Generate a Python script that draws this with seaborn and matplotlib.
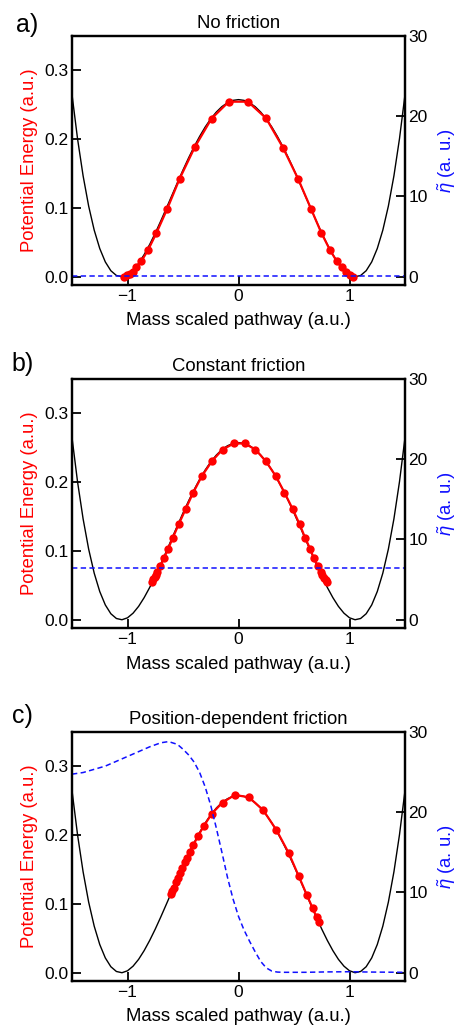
import numpy as np
import pandas as pd
import matplotlib
matplotlib.use("Agg")
import matplotlib.pyplot as plt
import seaborn as sns

# ---------------- data ----------------
# potential energy curve (symmetric double well)
pot_x = [-1.50, -1.45, -1.40, -1.35, -1.30, -1.25, -1.20, -1.15, -1.10, -1.05,
         -1.00, -0.95, -0.90, -0.85, -0.80, -0.75, -0.70, -0.65, -0.60, -0.55,
         -0.50, -0.45, -0.40, -0.35, -0.30, -0.25, -0.20, -0.15, -0.10, -0.05,
         0.00, 0.05, 0.10, 0.15, 0.20, 0.25, 0.30, 0.35, 0.40, 0.45,
         0.50, 0.55, 0.60, 0.65, 0.70, 0.75, 0.80, 0.85, 0.90, 0.95,
         1.00, 1.05, 1.10, 1.15, 1.20, 1.25, 1.30, 1.35, 1.40, 1.45, 1.50]
pot_y = [0.2644, 0.2001, 0.1464, 0.1025, 0.0676, 0.0409, 0.0215, 0.0087, 0.0018, 0.0000,
         0.0028, 0.0095, 0.0194, 0.0321, 0.0469, 0.0633, 0.0810, 0.0994, 0.1180, 0.1367,
         0.1549, 0.1723, 0.1887, 0.2037, 0.2173, 0.2291, 0.2389, 0.2468, 0.2524, 0.2559,
         0.2570, 0.2559, 0.2524, 0.2468, 0.2389, 0.2291, 0.2173, 0.2037, 0.1887, 0.1723,
         0.1549, 0.1367, 0.1180, 0.0994, 0.0810, 0.0633, 0.0469, 0.0321, 0.0194, 0.0095,
         0.0028, 0.0000, 0.0018, 0.0087, 0.0215, 0.0409, 0.0676, 0.1025, 0.1464, 0.2001, 0.2644]

# path images (red dots)
path_a_x = [-1.030, -1.005, -0.979, -0.952, -0.919, -0.874, -0.814, -0.739, -0.642, -0.531,
            -0.394, -0.243, -0.087, 0.085, 0.248, 0.400, 0.537, 0.652, 0.745, 0.823,
            0.883, 0.928, 0.964, 1.000, 1.030]
path_a_y = [0.0002, 0.0022, 0.0045, 0.0073, 0.0136, 0.0228, 0.0390, 0.0636, 0.0985, 0.1420,
            0.1880, 0.2295, 0.2540, 0.2540, 0.2300, 0.1875, 0.1420, 0.0990, 0.0640, 0.0390,
            0.0230, 0.0135, 0.0072, 0.0025, 0.0003]

path_b_x = [-0.777, -0.766, -0.755, -0.744, -0.733, -0.703, -0.673, -0.634, -0.592, -0.538,
            -0.477, -0.408, -0.330, -0.240, -0.144, -0.042, 0.054, 0.153, 0.246, 0.336,
            0.414, 0.489, 0.550, 0.600, 0.646, 0.679, 0.714, 0.740, 0.755, 0.770, 0.785, 0.800]
path_b_y = [0.0550, 0.0585, 0.0620, 0.0655, 0.0690, 0.0785, 0.0890, 0.1026, 0.1190, 0.1387,
            0.1604, 0.1845, 0.2085, 0.2300, 0.2470, 0.2558, 0.2558, 0.2470, 0.2300, 0.2085,
            0.1845, 0.1604, 0.1387, 0.1190, 0.1026, 0.0890, 0.0785, 0.0700, 0.0650, 0.0610,
            0.0575, 0.0545]

path_c_x = [-0.606, -0.595, -0.579, -0.561, -0.543, -0.525, -0.505, -0.484, -0.462, -0.439,
            -0.408, -0.366, -0.312, -0.240, -0.144, -0.033, 0.093, 0.222, 0.342, 0.453,
            0.543, 0.615, 0.669, 0.703, 0.724]
path_c_y = [0.1137, 0.1185, 0.1235, 0.1310, 0.1380, 0.1450, 0.1526, 0.1600, 0.1670, 0.1750,
            0.1850, 0.1980, 0.2130, 0.2310, 0.2470, 0.2580, 0.2546, 0.2360, 0.2070, 0.1735,
            0.1400, 0.1130, 0.0933, 0.0810, 0.0740]

# friction coefficient eta-tilde
eta_a = 0.05
eta_b = 6.4
eta_c_x = [-1.50, -1.40, -1.30, -1.20, -1.10, -1.00, -0.90, -0.80, -0.70, -0.63,
           -0.55, -0.50, -0.45, -0.40, -0.35, -0.30, -0.25, -0.20, -0.15, -0.10,
           -0.05, 0.00, 0.05, 0.10, 0.15, 0.20, 0.25, 0.30, 0.35, 0.40,
           0.60, 0.80, 1.00, 1.20, 1.50]
eta_c_y = [24.7, 24.9, 25.3, 25.7, 26.3, 26.9, 27.5, 28.1, 28.6, 28.75,
           28.4, 27.8, 27.1, 26.2, 24.9, 23.1, 20.8, 18.0, 15.0, 11.9,
           9.2, 7.0, 5.3, 3.9, 2.6, 1.4, 0.6, 0.2, 0.08, 0.05,
           0.05, 0.10, 0.12, 0.08, 0.05]

titles = ["No friction", "Constant friction", "Position-dependent friction"]
panel_labels = ["a)", "b)", "c)"]
xticks = [-1, 0, 1]
yticks_left = [0.0, 0.1, 0.2, 0.3]
yticks_right = [0, 10, 20, 30]

# ---------------- style ----------------
sns.set_style("ticks")
plt.rcParams['font.family'] = ['Liberation Sans', 'DejaVu Sans']
plt.rcParams['mathtext.fontset'] = 'custom'
plt.rcParams['mathtext.it'] = 'Liberation Sans:italic'
plt.rcParams['mathtext.rm'] = 'Liberation Sans'
for k in ['text.color', 'axes.labelcolor', 'xtick.color', 'ytick.color', 'axes.edgecolor']:
    plt.rcParams[k] = 'black'

RED = '#ff0000'
BLUE = '#1010ff'

fig = plt.figure(figsize=(4.56, 10.27), dpi=100)

left, width, height = 0.1579, 0.7303, 0.2429
bottoms = [0.7225, 0.3885, 0.0448]
label_pos = [(0.035, 0.9693), (0.026, 0.6388), (0.026, 0.2960)]

paths = [(path_a_x, path_a_y), (path_b_x, path_b_y), (path_c_x, path_c_y)]
etas = [
    pd.DataFrame({"x": pot_x, "eta": [eta_a] * len(pot_x)}),
    pd.DataFrame({"x": pot_x, "eta": [eta_b] * len(pot_x)}),
    pd.DataFrame({"x": eta_c_x, "eta": eta_c_y}),
]
pot_df = pd.DataFrame({"x": pot_x, "V": pot_y})

for i in range(3):
    ax = fig.add_axes([left, bottoms[i], width, height])
    sns.lineplot(data=pot_df, x="x", y="V", ax=ax, color='black', lw=1.0, sort=False)
    pdf = pd.DataFrame({"x": paths[i][0], "V": paths[i][1]})
    sns.lineplot(data=pdf, x="x", y="V", ax=ax, color=RED, lw=1.6, sort=False,
                 marker='o', markersize=6, markeredgewidth=0, markeredgecolor=RED)
    ax.set_xlim(-1.5, 1.5)
    ax.set_ylim(-0.012, 0.35)
    ax.set_xticks(xticks)
    ax.set_xticklabels(['\u22121', '0', '1'])
    ax.set_yticks(yticks_left)
    ax.set_yticklabels([f"{v:.1f}" for v in yticks_left])
    ax.tick_params(direction='in', length=6.5, width=1.3, labelsize=12.5, pad=3)
    ax.tick_params(axis='y', pad=2.5)
    for s in ax.spines.values():
        s.set_linewidth(1.6)
    ax.set_xlabel("Mass scaled pathway (a.u.)", fontsize=13.3, labelpad=6)
    ax.set_ylabel("Potential Energy (a.u.)", fontsize=13.3, color=RED, labelpad=4.5)
    ax.set_title(titles[i], fontsize=13.3, pad=5.2)

    ax2 = ax.twinx()
    sns.lineplot(data=etas[i], x="x", y="eta", ax=ax2, color=BLUE, lw=1.1, sort=False,
                 linestyle=(0, (3.5, 2.2)))
    ax2.set_ylim(-1.03, 30)
    ax2.set_yticks(yticks_right)
    ax2.set_yticklabels([str(v) for v in yticks_right])
    ax2.tick_params(direction='in', length=6.5, width=1.3, labelsize=12.5, pad=2.5)
    for s in ax2.spines.values():
        s.set_linewidth(1.6)
    ax2.set_ylabel(r"$\tilde{\eta}$ (a. u.)", fontsize=13.3, color=BLUE, labelpad=5.5)
    ax2.set_xlabel("")

    fig.text(label_pos[i][0], label_pos[i][1], panel_labels[i], fontsize=18,
             ha='left', va='baseline')

fig.savefig("out.png", dpi=100)
